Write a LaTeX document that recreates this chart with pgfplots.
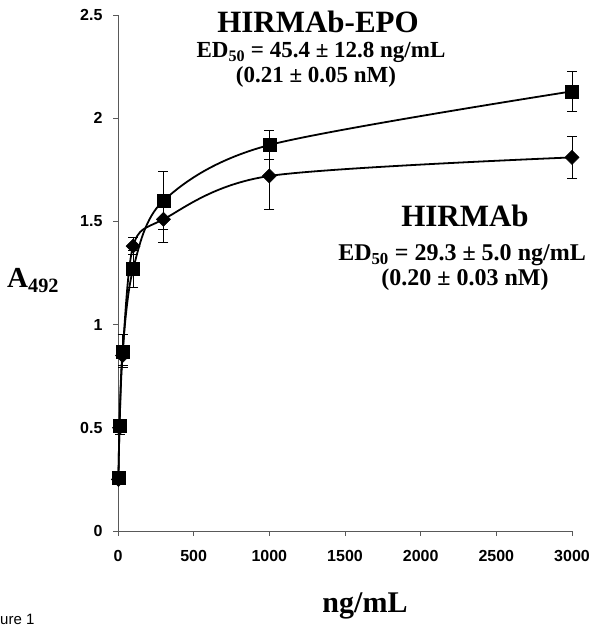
\documentclass[border=0pt]{standalone}
\usepackage{pgfplots}
\pgfplotsset{compat=1.18}
\usepackage{fontspec}
\setmainfont{Liberation Serif}
\newfontfamily\arial{Liberation Sans}
\pgfplotstableread{
x y e
3 0.26 0.02
10 0.51 0.03
30 0.87 0.08
100 1.27 0.09
300 1.60 0.14
1000 1.87 0.07
3000 2.13 0.095
}\epo
\pgfplotstableread{
x y e
3 0.25 0.02
10 0.50 0.03
30 0.85 0.05
100 1.38 0.04
300 1.51 0.11
1000 1.72 0.16
3000 1.81 0.10
}\hir
\begin{document}
\begin{tikzpicture}[x=1bp,y=1bp]
\useasboundingbox (0,0) rectangle (593,627);
\begin{axis}[
  at={(118bp,96bp)}, anchor=south west,
  scale only axis, width=454bp, height=516bp,
  xmin=0, xmax=3000, ymin=0, ymax=2.5,
  axis x line*=bottom, axis y line*=left,
  axis line style={gray!70!black, line width=0.8bp, -},
  xtick={0,500,1000,1500,2000,2500,3000},
  ytick={0,0.5,1,1.5,2,2.5},
  yticklabels={0,0.5,1,1.5,2,2.5},
  tick align=outside, major tick length=5bp,
  tick style={gray!70!black, line width=0.8bp},
  scaled x ticks=false,
  /pgf/number format/assume math mode=true,
  /pgf/number format/1000 sep={},
  ticklabel style={font=\arial\bfseries\fontsize{16bp}{16bp}\selectfont},
  xticklabel style={yshift=-11bp},
  yticklabel style={xshift=-7bp},
  clip=false,
]
\addplot[black, line width=1.8bp, smooth, mark=square*, mark size=6.5bp,
  mark options={solid, fill=black, line width=0.5bp},
  error bars/.cd, y dir=both, y explicit,
  error bar style={line width=0.9bp, black},
  error mark options={rotate=90, mark size=5bp, line width=0.9bp, black}]
  table[x=x, y=y, y error=e] {\epo};
\addplot[black, line width=1.8bp, smooth, mark=square*, mark size=5bp,
  mark options={solid, fill=black, rotate=45, line width=0.5bp},
  error bars/.cd, y dir=both, y explicit,
  error bar style={line width=0.9bp, black},
  error mark options={rotate=90, mark size=5bp, line width=0.9bp, black}]
  table[x=x, y=y, y error=e] {\hir};
\end{axis}
\node[anchor=base, font=\bfseries\fontsize{31bp}{31bp}\selectfont] at (318,594) {HIRMAb-EPO};
\node[anchor=base, font=\bfseries\fontsize{23bp}{23bp}\selectfont] at (321,569) {ED\textsubscript{50} = 45.4 ± 12.8 ng/mL};
\node[anchor=base, font=\bfseries\fontsize{23bp}{23bp}\selectfont] at (316,544) {(0.21 ± 0.05 nM)};
\node[anchor=base, font=\bfseries\fontsize{31bp}{31bp}\selectfont] at (465,400) {HIRMAb};
\node[anchor=base, font=\bfseries\fontsize{24bp}{24bp}\selectfont] at (462,366) {ED\textsubscript{50} = 29.3 ± 5.0 ng/mL};
\node[anchor=base, font=\bfseries\fontsize{24bp}{24bp}\selectfont] at (465,341) {(0.20 ± 0.03 nM)};
\node[anchor=base west, inner sep=0pt, font=\bfseries\fontsize{29bp}{29bp}\selectfont] at (7,339) {A\textsubscript{492}};
\node[anchor=base, font=\bfseries\fontsize{30bp}{30bp}\selectfont] at (365,14) {ng/mL};
\node[anchor=base west, inner sep=0pt, font=\arial\fontsize{15bp}{15bp}\selectfont] at (0,2) {ure 1};
\end{tikzpicture}
\end{document}
